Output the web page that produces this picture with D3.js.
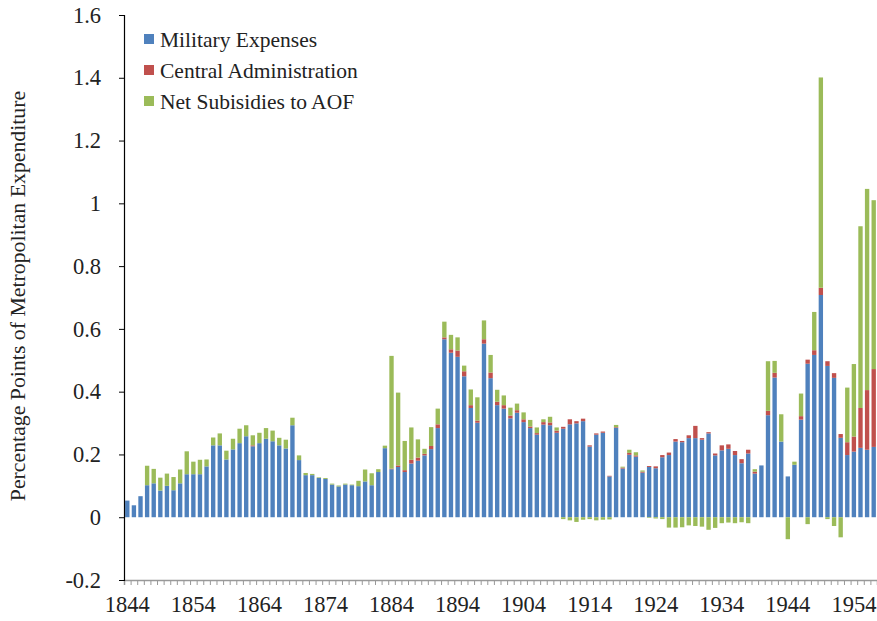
<!DOCTYPE html>
<html>
<head>
<meta charset="utf-8">
<script src="https://cdn.jsdelivr.net/npm/d3@7"></script>
<style>
  body { margin: 0; background: #fff; }
  svg text { font-family: "Liberation Serif", "DejaVu Serif", serif !important; fill: #222; }
</style>
</head>
<body>
<svg id="chart" width="877" height="621"></svg>
<script>
// years on the category axis
var years = d3.range(1844, 1958);
var yearLabels = [1844, 1854, 1864, 1874, 1884, 1894, 1904, 1914, 1924, 1934, 1944, 1954];
var yTicks = [-0.2, 0, 0.2, 0.4, 0.6, 0.8, 1, 1.2, 1.4, 1.6];
var seriesNames = ["Military Expenses", "Central Administration", "Net Subisidies to AOF"];

// Military expenses, 1844-1957
var military = [
  0.053, 0.038, 0.067, 0.102, 0.108, 0.085, 0.100, 0.086, 0.108, 0.137,
  0.137, 0.137, 0.162, 0.229, 0.229, 0.184, 0.216, 0.236, 0.258, 0.226,
  0.236, 0.250, 0.242, 0.229, 0.219, 0.293, 0.182, 0.134, 0.134, 0.125,
  0.122, 0.104, 0.098, 0.104, 0.102, 0.099, 0.114, 0.102, 0.144, 0.220,
  0.153, 0.160, 0.144, 0.171, 0.180, 0.197, 0.217, 0.284, 0.567, 0.524,
  0.511, 0.449, 0.348, 0.301, 0.553, 0.443, 0.357, 0.346, 0.315, 0.333,
  0.303, 0.284, 0.263, 0.295, 0.293, 0.269, 0.282, 0.296, 0.299, 0.306,
  0.225, 0.263, 0.269, 0.130, 0.285, 0.155, 0.199, 0.193, 0.142, 0.160,
  0.156, 0.191, 0.198, 0.241, 0.239, 0.252, 0.252, 0.247, 0.267, 0.197,
  0.213, 0.218, 0.198, 0.172, 0.203, 0.139, 0.165, 0.325, 0.445, 0.241,
  0.130, 0.167, 0.311, 0.489, 0.517, 0.708, 0.482, 0.444, 0.253, 0.198,
  0.209, 0.221, 0.215, 0.224
];

// Central administration
var admin = [
  0, 0, 0, 0, 0, 0, 0, 0, 0, 0,
  0, 0, 0, 0, 0, 0, 0, 0, 0, 0.003,
  0, 0, 0, 0, 0, 0, 0, 0, 0, 0,
  0, 0, 0, 0, 0, 0, 0, 0, 0, 0,
  0.002, 0.005, 0.006, 0.012, 0.010, 0.005, 0.010, 0.012, 0.006, 0.011,
  0.020, 0.016, 0.009, 0.007, 0.014, 0.018, 0.011, 0.011, 0.009, 0.008,
  0.009, 0.005, 0.005, 0.008, 0.009, 0.007, 0.006, 0.016, 0.007, 0.008,
  0.004, 0.004, 0.004, 0.002, 0.002, 0.003, 0.006, 0.004, 0.003, 0.003,
  0.006, 0.007, 0.008, 0.008, 0.004, 0.009, 0.039, 0.005, 0.004, 0.006,
  0.016, 0.014, 0.013, 0.013, 0.012, 0.006, 0, 0.014, 0.015, 0,
  0, 0, 0.011, 0.013, 0.015, 0.023, 0.015, 0.015, 0.012, 0.041,
  0.048, 0.127, 0.190, 0.248
];

// Net subsidies to AOF (negative values drawn below zero)
var subsidies = [
  0, 0, 0, 0.062, 0.046, 0.041, 0.039, 0.042, 0.044, 0.073,
  0.040, 0.046, 0.022, 0.025, 0.038, 0.028, 0.034, 0.046, 0.035, 0.032,
  0.033, 0.034, 0.034, 0.024, 0.028, 0.024, 0.015, 0.007, 0.004, 0.002,
  0.003, 0.003, 0.003, 0.003, 0.002, 0.017, 0.038, 0.038, 0.009, 0.008,
  0.359, 0.232, 0.093, 0.103, 0.058, 0.016, 0.060, 0.050, 0.050, 0.046,
  0.042, 0.018, 0.050, 0.074, 0.060, 0.056, 0.038, 0.031, 0.025, 0.021,
  0.022, 0.021, 0.018, 0.009, 0.018, 0.010, -0.006, -0.010, -0.015, -0.008,
  -0.006, -0.010, -0.008, -0.007, 0.007, 0.003, 0.010, 0.010, 0.004, -0.002,
  -0.004, -0.006, -0.033, -0.033, -0.032, -0.026, -0.028, -0.030, -0.040, -0.034,
  -0.019, -0.017, -0.019, -0.016, -0.019, 0.008, 0, 0.158, 0.038, 0.087,
  -0.070, 0.010, 0.072, -0.022, 0.122, 0.670, -0.006, -0.028, -0.064, 0.174,
  0.231, 0.579, 0.641, 0.538
];

var colors = ["#4f81bd", "#c0504d", "#9bbb59"];
var serif = "'Liberation Serif', 'DejaVu Serif', serif";

var plotLeft = 124, plotRight = 877, plotTop = 15, plotBottom = 580;

var svg = d3.select("#chart");

var rows = years.map(function(yr, i) {
  return { year: yr, m: military[i], a: admin[i], s: subsidies[i] };
});

var stack = d3.stack()
  .keys(["m", "a", "s"])
  .offset(d3.stackOffsetDiverging);
var layers = stack(rows);

var x = d3.scaleBand()
  .domain(years)
  .range([plotLeft, plotRight])
  .paddingInner(0.34)
  .paddingOuter(0.17);

var y = d3.scaleLinear()
  .domain([-0.2, 1.6])
  .range([plotBottom, plotTop]);

// bars
svg.append("g")
  .selectAll("g")
  .data(layers)
  .enter().append("g")
    .attr("fill", function(d, i) { return colors[i]; })
  .selectAll("rect")
  .data(function(d) { return d; })
  .enter().append("rect")
    .attr("x", function(d) { return x(d.data.year); })
    .attr("width", x.bandwidth())
    .attr("y", function(d) { return y(Math.max(d[0], d[1])); })
    .attr("height", function(d) { return Math.abs(y(d[0]) - y(d[1])); });

// x axis: small ticks at every category boundary, gray
var xEdges = d3.scaleLinear().domain([0, years.length]).range([plotLeft, plotRight]);
svg.append("g")
  .attr("transform", "translate(0," + plotBottom + ")")
  .call(d3.axisBottom(xEdges).tickValues(d3.range(0, years.length + 1)).tickSize(5).tickFormat(""))
  .call(function(g) {
    g.selectAll("line").attr("stroke", "#999");
    g.select(".domain").attr("stroke", "#999").attr("stroke-width", 1.5);
  });

svg.append("g")
  .attr("transform", "translate(0," + plotBottom + ")")
  .call(d3.axisBottom(x).tickValues(yearLabels).tickSize(0).tickPadding(16))
  .call(function(g) {
    g.attr("font-family", serif);
    g.select(".domain").remove();
    g.selectAll("text").style("font-size", "22.5px").style("font-family", serif).attr("fill", "#222");
  });

// y axis
svg.append("g")
  .attr("transform", "translate(" + plotLeft + ",0)")
  .call(d3.axisLeft(y).tickValues(yTicks).tickSize(5).tickPadding(18)
    .tickFormat(function(d) { return String(+d.toFixed(1)); }))
  .call(function(g) {
    g.attr("font-family", serif);
    g.select(".domain").attr("stroke", "#000").attr("stroke-width", 1.2);
    g.selectAll("line").attr("stroke", "#000");
    g.selectAll("text").style("font-size", "22.5px").style("font-family", serif).attr("fill", "#222");
  });

// y axis title
svg.append("text")
  .attr("transform", "translate(25,296) rotate(-90)")
  .attr("text-anchor", "middle")
  .style("font-family", serif)
  .style("font-size", "21.8px")
  .text("Percentage Points of Metropolitan Expenditure");

// legend
var legend = svg.append("g").attr("transform", "translate(144,39)");
var item = legend.selectAll("g")
  .data(seriesNames)
  .enter().append("g")
    .attr("transform", function(d, i) { return "translate(0," + i * 31 + ")"; });
item.append("rect")
  .attr("x", 0).attr("y", -5).attr("width", 10).attr("height", 10)
  .attr("fill", function(d, i) { return colors[i]; });
item.append("text")
  .attr("x", 16).attr("dy", "0.35em")
  .style("font-family", serif)
  .style("font-size", "21.5px")
  .text(function(d) { return d; });
</script>
</body>
</html>
